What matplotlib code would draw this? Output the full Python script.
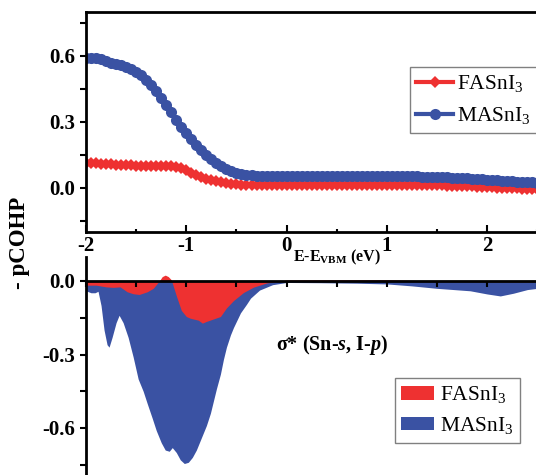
import numpy as np
import matplotlib
matplotlib.use('Agg')
import matplotlib.pyplot as plt
from matplotlib.ticker import MultipleLocator, NullFormatter

plt.rcParams['font.family'] = ['Liberation Serif', 'DejaVu Serif']
plt.rcParams['mathtext.fontset'] = 'custom'
plt.rcParams['mathtext.rm'] = 'Liberation Serif'
plt.rcParams['mathtext.it'] = 'Liberation Serif:italic:bold'
plt.rcParams['mathtext.bf'] = 'Liberation Serif:bold'
plt.rcParams['axes.unicode_minus'] = False

RED = '#EE3131'
BLUE = '#3A52A3'

# top panel: integrated pCOHP, energy grid -2 .. 2.5 eV (step 0.05)
e_top = np.linspace(-2.0, 2.5, 91)
fa_top = [0.113, 0.113, 0.112, 0.111, 0.110, 0.108, 0.106, 0.105, 0.104, 0.103,
          0.102, 0.101, 0.100, 0.100, 0.100, 0.100, 0.100, 0.099, 0.096, 0.089,
          0.080, 0.070, 0.060, 0.051, 0.043, 0.036, 0.030, 0.025, 0.021, 0.018,
          0.016, 0.014, 0.013, 0.012, 0.012, 0.012, 0.012, 0.012, 0.012, 0.012,
          0.012, 0.012, 0.012, 0.012, 0.012, 0.012, 0.012, 0.012, 0.012, 0.012,
          0.012, 0.012, 0.012, 0.012, 0.012, 0.012, 0.012, 0.012, 0.012, 0.012,
          0.012, 0.012, 0.012, 0.012, 0.012, 0.012, 0.012, 0.012, 0.012, 0.012,
          0.012, 0.012, 0.011, 0.011, 0.010, 0.009, 0.008, 0.007, 0.006, 0.005,
          0.004, 0.003, 0.002, 0.001, 0.000, -0.001, -0.002, -0.003, -0.004, -0.004,
          -0.005]
ma_top = [0.592, 0.591, 0.590, 0.586, 0.578, 0.569, 0.563, 0.557, 0.550, 0.541,
          0.529, 0.513, 0.493, 0.469, 0.441, 0.411, 0.378, 0.344, 0.310, 0.279,
          0.250, 0.222, 0.196, 0.172, 0.150, 0.131, 0.114, 0.099, 0.087, 0.077,
          0.069, 0.064, 0.060, 0.058, 0.056, 0.055, 0.055, 0.055, 0.055, 0.055,
          0.055, 0.055, 0.055, 0.055, 0.055, 0.055, 0.055, 0.055, 0.055, 0.055,
          0.055, 0.054, 0.054, 0.054, 0.054, 0.054, 0.054, 0.054, 0.054, 0.054,
          0.054, 0.054, 0.054, 0.054, 0.054, 0.053, 0.053, 0.052, 0.052, 0.051,
          0.050, 0.049, 0.048, 0.047, 0.046, 0.045, 0.044, 0.042, 0.041, 0.040,
          0.038, 0.037, 0.035, 0.034, 0.032, 0.031, 0.029, 0.028, 0.026, 0.025,
          0.024]

# bottom panel: sigma* (Sn-s, I-p) pCOHP
e_ma = [-2.00, -1.95, -1.91, -1.88, -1.85, -1.82, -1.79, -1.77, -1.74, -1.70,
        -1.67, -1.63, -1.58, -1.53, -1.48, -1.43, -1.39, -1.34, -1.30, -1.25,
        -1.21, -1.17, -1.14, -1.10, -1.06, -1.02, -0.98, -0.94, -0.90, -0.86,
        -0.80, -0.76, -0.73, -0.70, -0.66, -0.63, -0.60, -0.56, -0.53, -0.46,
        -0.40, -0.36, -0.27, -0.14, 0.00, 0.33, 0.70, 1.00, 1.25, 1.50,
        1.83, 2.00, 2.13, 2.26, 2.40, 2.50]
ma_bot = [-0.040, -0.048, -0.048, -0.042, -0.100, -0.200, -0.260, -0.270, -0.230, -0.170,
          -0.140, -0.170, -0.230, -0.310, -0.400, -0.450, -0.500, -0.560, -0.610, -0.660,
          -0.690, -0.695, -0.680, -0.700, -0.730, -0.745, -0.740, -0.720, -0.690, -0.650,
          -0.590, -0.540, -0.490, -0.440, -0.380, -0.320, -0.270, -0.220, -0.190, -0.130,
          -0.095, -0.070, -0.037, -0.015, -0.006, -0.007, -0.009, -0.012, -0.020, -0.030,
          -0.040, -0.053, -0.061, -0.050, -0.035, -0.030]
e_fa = [-2.00, -1.90, -1.80, -1.73, -1.66, -1.59, -1.53, -1.47, -1.39, -1.33,
        -1.27, -1.24, -1.21, -1.18, -1.15, -1.10, -1.05, -1.00, -0.96, -0.88,
        -0.84, -0.80, -0.73, -0.66, -0.60, -0.53, -0.43, -0.33, -0.20, -0.07,
        0.00, 0.50, 1.00, 1.20, 1.50, 2.00, 2.50]
fa_bot = [-0.017, -0.017, -0.024, -0.026, -0.024, -0.044, -0.052, -0.055, -0.044, -0.030,
          0.000, 0.018, 0.024, 0.018, 0.005, -0.060, -0.120, -0.145, -0.152, -0.160,
          -0.172, -0.165, -0.155, -0.145, -0.110, -0.080, -0.047, -0.025, -0.008, 0.000,
          0.004, 0.005, 0.005, 0.003, 0.000, -0.003, -0.003]

fig = plt.figure(figsize=(5.36, 4.75), dpi=100)
ax1 = fig.add_axes([86/536, 1-232/475, 451.4/536, 220/475])
ax2 = fig.add_axes([86/536, 1-477/475, 451.4/536, 220.5/475])

# ---- top panel
ax1.plot(e_top, fa_top, color=RED, lw=3, marker='D', ms=6, mew=0, label=r'FASnI$_3$')
ax1.plot(e_top, ma_top, color=BLUE, lw=3, marker='o', ms=8, mew=0, label=r'MASnI$_3$')
ax1.set_xlim(-2, 2.5)
ax1.set_ylim(-0.2, 0.8)
ax1.xaxis.set_major_locator(MultipleLocator(1))
ax1.xaxis.set_minor_locator(MultipleLocator(0.5))
ax1.set_yticks([0.0, 0.3, 0.6])
ax1.yaxis.set_minor_locator(MultipleLocator(0.15))
ax1.yaxis.set_major_formatter(plt.FuncFormatter(lambda v, p: '%.1f' % v))
ax1.tick_params(axis='x', which='major', direction='in', length=5, width=1.5, pad=3,
                labelsize=15)
ax1.tick_params(axis='x', which='minor', direction='in', length=2.5, width=1.5)
ax1.tick_params(axis='y', which='both', direction='out', length=4, width=1.5, pad=4,
                labelsize=15)
ax1.tick_params(top=False, right=False, which='both')
for lab in ax1.get_xticklabels() + ax1.get_yticklabels():
    lab.set_fontweight('bold')
for s in ax1.spines.values():
    s.set_linewidth(2)

leg1 = ax1.legend(loc='upper left', bbox_to_anchor=(410/536, 1-67/475),
                  bbox_transform=fig.transFigure, fontsize=15.5, numpoints=1,
                  handlelength=1.7, handletextpad=0.2, borderpad=0.3,
                  labelspacing=0.5, borderaxespad=0, fancybox=False,
                  edgecolor='#808080', framealpha=1)
leg1.get_frame().set_linewidth(1)

# ---- bottom panel
ax2.fill_between(e_ma, ma_bot, 0, color=BLUE, lw=0, label=r'MASnI$_3$')
ax2.fill_between(e_fa, fa_bot, 0, color=RED, lw=0, label=r'FASnI$_3$')
ax2.set_xlim(-2, 2.5)
ax2.set_ylim(-0.8, 0.1)
ax2.spines['bottom'].set_position(('data', 0))
ax2.spines['top'].set_visible(False)
ax2.spines['right'].set_visible(False)
for s in ax2.spines.values():
    s.set_linewidth(2)
ax2.set_axisbelow(False)
ax2.xaxis.set_major_locator(MultipleLocator(1))
ax2.xaxis.set_minor_locator(MultipleLocator(0.5))
ax2.xaxis.set_major_formatter(NullFormatter())
ax2.set_yticks([0.0, -0.3, -0.6])
ax2.yaxis.set_minor_locator(MultipleLocator(0.15))
ax2.yaxis.set_major_formatter(plt.FuncFormatter(lambda v, p: '%.1f' % v))
ax2.tick_params(axis='x', which='both', direction='out', length=4, width=1.5)
ax2.tick_params(axis='y', which='both', direction='out', length=4, width=1.5, pad=4,
                labelsize=15)
for lab in ax2.get_yticklabels():
    lab.set_fontweight('bold')

h, l = ax2.get_legend_handles_labels()
leg2 = ax2.legend(h[::-1], l[::-1], loc='upper left', bbox_to_anchor=(395/536, 1-378/475),
                  bbox_transform=fig.transFigure, fontsize=15.5,
                  handlelength=1.5, handleheight=0.6, handletextpad=0.3, borderpad=0.3,
                  labelspacing=0.45, borderaxespad=0, fancybox=False,
                  edgecolor='#808080', framealpha=1)
leg2.get_frame().set_linewidth(1)

ax2.text(276/536, 1-345/475, r'σ* (Sn-$\mathit{s}$, I-$\mathit{p}$)', transform=fig.transFigure,
         fontsize=14.5, fontweight='bold', va='center', ha='left')

# axis labels
fig.text(293/536, 1-257/475, r'$\mathbf{E}$-$\mathbf{E}_{\mathbf{VBM}}$ (eV)',
         fontsize=11.5, fontweight='bold', va='center', ha='left')
fig.text(20/536, 1-243/475, '- pCOHP', rotation=90, fontsize=16.5, fontweight='bold',
         va='center', ha='center')

fig.savefig('out.png', dpi=100)
